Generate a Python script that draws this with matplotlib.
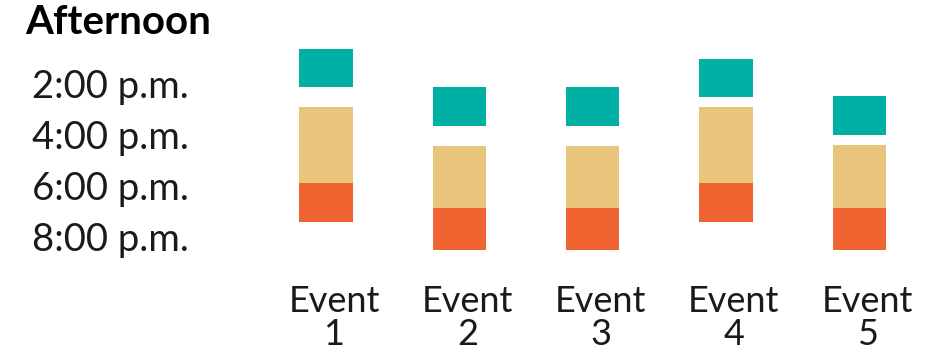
import numpy as np
import matplotlib.pyplot as plt
from matplotlib.transforms import ScaledTranslation

plt.rcParams['font.family'] = ['Lato', 'DejaVu Sans']

events = ['Event\n1', 'Event\n2', 'Event\n3', 'Event\n4', 'Event\n5']

# start / end of each block, in hours of the day
teal_start = [12.66, 14.13, 14.13, 13.04, 14.49]
teal_end = [14.13, 15.65, 15.65, 14.52, 16.03]
beige_start = [14.91, 16.44, 16.44, 14.91, 16.42]
beige_end = [17.91, 19.48, 19.48, 17.91, 19.48]
orange_start = [17.91, 18.88, 18.88, 17.91, 18.88]
orange_end = [19.44, 20.53, 20.53, 19.44, 20.53]

hour_ticks = [14, 16, 18, 20]
hour_labels = ['2:00 p.m.', '4:00 p.m.', '6:00 p.m.', '8:00 p.m.']

TEAL = '#00B0A4'
BEIGE = '#E8C57A'
ORANGE = '#F06432'
TEXT = '#1a1a1a'

fig = plt.figure(figsize=(9.3, 3.57), dpi=100)
ax = fig.add_axes([200 / 930, 1 - 260 / 357, 720 / 930, 220 / 357])

x = np.arange(len(events))
w = 0.4

def block(start, end, color):
    s = np.array(start)
    e = np.array(end)
    ax.bar(x, e - s, bottom=s, width=w, color=color, edgecolor='none')

block(teal_start, teal_end, TEAL)
block(beige_start, beige_end, BEIGE)
block(orange_start, orange_end, ORANGE)

ax.set_xlim(-0.945, 4.456)
ax.set_ylim(20.92, 12.294)

ax.set_yticks(hour_ticks)
ax.set_yticklabels(hour_labels, fontsize=27.5, color=TEXT)
ax.set_xticks(x)
ax.set_xticklabels(events, fontsize=26, color=TEXT, linespacing=1.0)

ax.tick_params(axis='both', length=0)
ax.tick_params(axis='y', pad=8)
ax.tick_params(axis='x', pad=18)
shift = ScaledTranslation(8 / 100, 0, fig.dpi_scale_trans)
for lab in ax.get_xticklabels():
    lab.set_transform(lab.get_transform() + shift)

for sp in ax.spines.values():
    sp.set_visible(False)

fig.text(25 / 930, 1 - 4 / 357, 'Afternoon', fontsize=29, fontweight='bold',
         ha='left', va='top', color='black')

fig.savefig('out.png', dpi=100, facecolor='white')
